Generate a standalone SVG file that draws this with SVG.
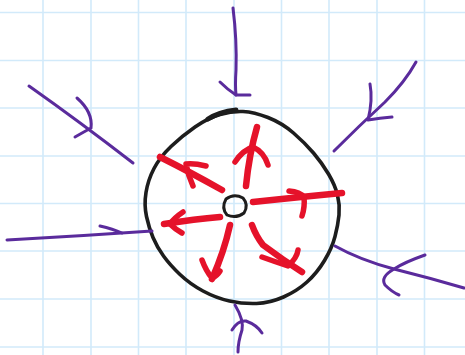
<svg xmlns="http://www.w3.org/2000/svg" width="465" height="355" viewBox="0 0 465 355">
<style>
.grid{stroke:#d2eafa;stroke-width:1.6;fill:none}
.ink{fill:none;stroke:#1d1d1d;stroke-linecap:round;stroke-linejoin:round}
.red{fill:none;stroke:#e5122a;stroke-width:6.5;stroke-linecap:round;stroke-linejoin:round}
.redh{fill:none;stroke:#e5122a;stroke-width:5.5;stroke-linecap:round;stroke-linejoin:round}
.pur{fill:none;stroke:#5a2b9c;stroke-width:3;stroke-linecap:round;stroke-linejoin:round}
</style>
<rect width="465" height="355" fill="#ffffff"/>
<g id="grid" class="grid">
<path d="M43,0V355M91,0V355M138.5,0V355M186,0V355M234,0V355M281.5,0V355M329,0V355M377,0V355M424.5,0V355"/>
<path d="M0,12.5H465M0,60.5H465M0,108H465M0,156H465M0,203.5H465M0,251H465M0,299H465M0,347H465"/>
</g>
<g id="outer-circle">
<path class="ink" stroke-width="3.6" d="M220,114.5 Q232,111 243,111.5 Q254,112 268,117.5 Q282,123 293.5,133 Q305,143 313.5,153 Q322,163 328.5,174 Q335,185 337.5,195 Q340,205 339,215 Q338,225 335,236.5 Q332,248 324.5,260.5 Q317,273 307,282 Q297,291 283.5,297 Q270,303 256.5,303.5 Q243,304 229.5,301 Q216,298 203,291 Q190,284 180,274.5 Q170,265 163.5,256 Q157,247 153,237.5 Q149,228 146.5,216.5 Q144,205 146,192.5 Q148,180 154,168.5 Q160,157 171,146.5 Q182,136 195,127 Q208,118 220,114.5 Z"/>
<path class="ink" stroke-width="5" d="M208,119 Q219,112 236,110"/>
</g>
<g id="nucleus">
<path class="ink" stroke-width="3" d="M226,199 Q234,193 243,198 Q249,205 244,213 Q236,219 227,215 Q221,208 226,199 Z"/>
</g>
<g id="outward-arrows">
<path class="red" d="M222,190 Q190,172 160,157"/>
<path class="redh" d="M206,166 Q194,163 186,164 Q188,175 193,186"/>
<path class="red" d="M246,186 Q249,155 257,127"/>
<path class="redh" d="M235,162 Q243,150 253,147 Q264,152 268,165"/>
<path class="red" d="M253,202 Q300,197 342,193"/>
<path class="redh" d="M289,191 Q300,192 304,197 Q305,207 302,216"/>
<path class="red" d="M220,217 Q195,219 164,224"/>
<path class="redh" d="M183,212 Q174,218 170,224 Q175,229 182,233"/>
<path class="red" d="M230,225 Q224,252 212,279"/>
<path class="redh" d="M202,260 Q206,271 212,278 Q217,276 220,271"/>
<path class="red" d="M252,225 Q256,236 263,245 Q283,260 302,272"/>
<path class="redh" d="M262,257 Q276,262 288,266 Q297,258 298,250"/>
</g>
<g id="inward-arrows">
<path class="pur" d="M233,8 Q237,40 236,70 Q235,85 236,95"/>
<path class="pur" d="M220,82 Q228,90 236,95 Q243,95 250,95"/>
<path class="pur" d="M416,62 Q405,82 385,102 Q360,125 334,151"/>
<path class="pur" d="M370,84 Q373,100 368,120 Q380,118 392,117"/>
<path class="pur" d="M335,246 Q360,260 394,269 Q430,278 464,288"/>
<path class="pur" d="M425,255 Q405,262 394,269 Q380,277 385,285 Q392,292 399,295"/>
<path class="pur" d="M235,305 Q244,320 242,330 Q238,342 238,352"/>
<path class="pur" d="M232,330 Q238,320 246,321 Q257,325 262,333"/>
<path class="pur" d="M7,240 Q80,236 152,231"/>
<path class="pur" d="M100,226 Q113,229 122,233"/>
<path class="pur" d="M29,86 Q80,122 133,163"/>
<path class="pur" d="M77,98 Q93,112 91,128 Q82,133 75,137"/>
</g>
</svg>
